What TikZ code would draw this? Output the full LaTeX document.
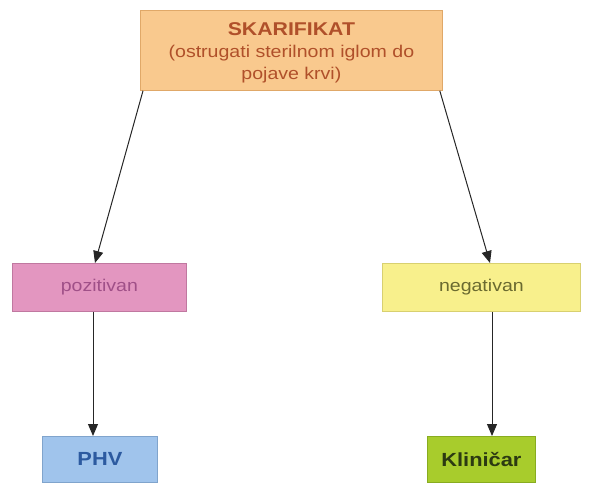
\documentclass[tikz,border=0pt]{standalone}
\usepackage{fontspec}
\setmainfont[FakeStretch=1.15]{Liberation Sans}
\usetikzlibrary{arrows.meta}
\definecolor{topfill}{HTML}{F9C98E}
\definecolor{topdraw}{HTML}{E0A868}
\definecolor{toptext}{HTML}{B0502A}
\definecolor{posfill}{HTML}{E396C0}
\definecolor{posdraw}{HTML}{C078A0}
\definecolor{postext}{HTML}{A05088}
\definecolor{negfill}{HTML}{F8F08C}
\definecolor{negdraw}{HTML}{D8D070}
\definecolor{negtext}{HTML}{6A6A30}
\definecolor{phvfill}{HTML}{A0C4EC}
\definecolor{phvdraw}{HTML}{80A4CC}
\definecolor{phvtext}{HTML}{2C5AA0}
\definecolor{klfill}{HTML}{A8CC2C}
\definecolor{kldraw}{HTML}{88AC20}
\definecolor{kltext}{HTML}{2C3A12}
\tikzset{
  box/.style={draw, line width=0.8pt, inner sep=0pt, align=center, font=\fontsize{17}{22}\selectfont},
  boldbox/.style={box, font=\fontsize{19}{22}\selectfont\bfseries},
  lbl/.style={inner sep=0pt, align=center, font=\fontsize{17}{22}\selectfont},
  arr/.style={-{Triangle[length=12pt,width=10pt]}, line width=1pt, black!85}
}
\begin{document}
\begin{tikzpicture}[x=1pt,y=-1pt]
\useasboundingbox (0,0) rectangle (593,484);
\node[box, fill=topfill, draw=topdraw, minimum width=302pt, minimum height=80pt, anchor=north west] (top) at (140,10) {};
\node[lbl, text=toptext] (toptxt) at ([yshift=-2pt]top.center)
  {{\fontsize{18.5}{22}\selectfont\bfseries SKARIFIKAT}\\(ostrugati sterilnom iglom do\\pojave krvi)};
\node[box, fill=posfill, draw=posdraw, text=postext, minimum width=174pt, minimum height=48pt, anchor=north west] (pos) at (12,263) {pozitivan};
\node[box, fill=negfill, draw=negdraw, text=negtext, minimum width=198pt, minimum height=48pt, anchor=north west] (neg) at (382,263) {negativan};
\node[boldbox, fill=phvfill, draw=phvdraw, text=phvtext, minimum width=115pt, minimum height=46pt, anchor=north west] (phv) at (42,436) {PHV};
\node[boldbox, fill=klfill, draw=kldraw, text=kltext, minimum width=108pt, minimum height=46pt, anchor=north west] (kl) at (427,436) {Kliničar};
\coordinate (tl) at ([xshift=3pt]top.south west);
\coordinate (tr) at ([xshift=-3pt]top.south east);
\draw[arr] (tl) -- (pos.north -| 95,0);
\draw[arr] (tr) -- (neg.north -| 490,0);
\draw[arr] (pos.south -| 93,0) -- (phv.north -| 93,0);
\draw[arr] (neg.south -| 492,0) -- (kl.north -| 492,0);
\end{tikzpicture}
\end{document}
